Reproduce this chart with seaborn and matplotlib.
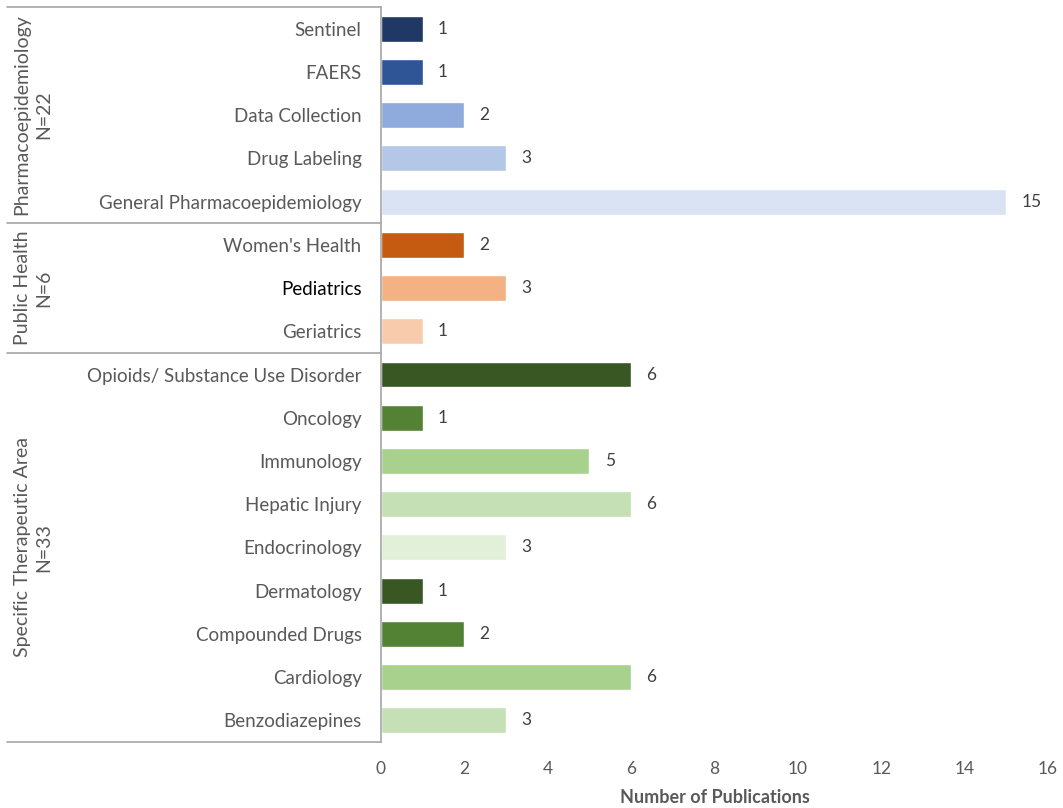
import numpy as np
import pandas as pd
import seaborn as sns
import matplotlib.pyplot as plt

# categories top-to-bottom, with publication counts
labels = ['Sentinel', 'FAERS', 'Data Collection', 'Drug Labeling',
          'General Pharmacoepidemiology',
          "Women's Health", 'Pediatrics', 'Geriatrics',
          'Opioids/ Substance Use Disorder', 'Oncology', 'Immunology',
          'Hepatic Injury', 'Endocrinology', 'Dermatology',
          'Compounded Drugs', 'Cardiology', 'Benzodiazepines']
counts = [1, 1, 2, 3, 15, 2, 3, 1, 6, 1, 5, 6, 3, 1, 2, 6, 3]
colors = ['#203864', '#2f5597', '#8faadc', '#b4c7e7', '#dae3f3',
          '#c55a11', '#f4b183', '#f8cbad',
          '#385723', '#548235', '#a9d18e', '#c5e0b4', '#e2f0d9',
          '#385723', '#548235', '#a9d18e', '#c5e0b4']

group_names = ['Pharmacoepidemiology\nN=22', 'Public Health\nN=6',
               'Specific Therapeutic Area\nN=33']
group_sizes = [5, 3, 9]

df = pd.DataFrame({'label': labels, 'count': counts})

sns.set_style('white')
plt.rcParams['font.family'] = ['Lato', 'DejaVu Sans']

fig = plt.figure(figsize=(10.63, 8.08), dpi=100)
ax = fig.add_axes([0.3584, 0.0817, 0.6275, 0.9096])

sns.barplot(data=df, x='count', y='label', hue='label', palette=colors,
            legend=False, width=0.6, saturation=1, ax=ax, orient='h')

ax.set_xlim(0, 16)
ax.set_ylim(len(labels) - 0.5, -0.5)
ax.set_xticks(range(0, 17, 2))
ax.tick_params(axis='both', length=0, labelcolor='#595959')
ax.tick_params(axis='y', labelsize=13.5, pad=14)
ax.tick_params(axis='x', labelsize=12.5, pad=14)
for t in ax.get_yticklabels():
    if t.get_text() == 'Pediatrics':
        t.set_color('black')
ax.set_ylabel('')
ax.set_xlabel('Number of Publications', fontsize=13, fontweight='bold',
              color='#595959', labelpad=8)

for s in ['top', 'right', 'bottom']:
    ax.spines[s].set_visible(False)
ax.spines['left'].set_color('#a6a6a6')
ax.spines['left'].set_linewidth(1.2)

for c in ax.containers:
    ax.bar_label(c, padding=11, fontsize=12.5, color='#404040')

# group brackets
tr = ax.get_yaxis_transform()
edges = np.concatenate([[0], np.cumsum(group_sizes)]) - 0.5
for y in edges:
    ax.plot([-0.56, 0], [y, y], transform=tr, color='#a6a6a6', lw=1.2,
            clip_on=False)
for name, a, b in zip(group_names, edges[:-1], edges[1:]):
    ax.text(-0.522, (a + b) / 2, name, transform=tr, rotation=90,
            ha='center', va='center', multialignment='center',
            fontsize=14, color='#595959', linespacing=1.3)

plt.savefig('out.png', dpi=100)
